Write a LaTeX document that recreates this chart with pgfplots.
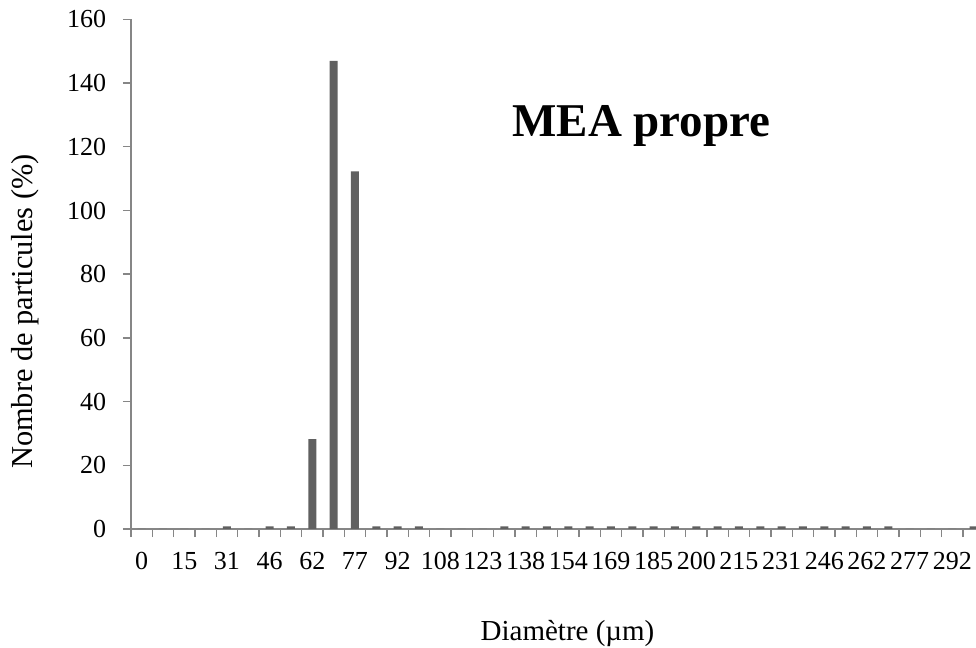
\documentclass[border=0pt]{standalone}
\usepackage{pgfplots}
\pgfplotsset{compat=1.18}
\usepackage{fontspec}
\setmainfont{Liberation Serif}
\definecolor{bargray}{HTML}{606060}
\definecolor{axisgray}{HTML}{868686}

\begin{document}
\begin{tikzpicture}
\begin{axis}[
	at={(0,0)}, anchor=south west,
	scale only axis,
	width=422.5pt, height=254.8pt,
	xmin=-0.5, xmax=39.11,
	ymin=0, ymax=160,
	axis lines=left,
	axis line style={-, draw=axisgray, line width=0.7pt},
	tick align=outside,
	tick style={draw=axisgray, line width=0.7pt},
	major tick length=4pt,
	xtick={-0.5,0.5,...,38.5},
	xticklabels={},
	extra x ticks={0,2,...,38},
	extra x tick labels={0,15,31,46,62,77,92,108,123,138,154,169,185,200,215,231,246,262,277,292},
	extra x tick style={major tick length=0pt},
	ytick={0,20,...,160},
	/pgf/number format/assume math mode=true,
	xticklabel style={font=\fontsize{13}{15}\selectfont, anchor=base, inner sep=0pt, yshift=-20.5pt},
	yticklabel style={font=\fontsize{13}{15}\selectfont, anchor=east, inner sep=0pt, xshift=-8.2pt},
	xlabel={Diamètre (µm)},
	ylabel={Nombre de particules (\%)},
	xlabel style={font=\fontsize{14.5}{17}\selectfont, at={(axis description cs:0.5166,-0.2192)}, anchor=base, inner sep=0pt},
	ylabel style={font=\fontsize{15.2}{18}\selectfont, at={(axis description cs:-0.1163,0.4268)}, anchor=base, inner sep=0pt},
	ybar, bar width=4pt, bar shift=0pt,
]
\addplot[fill=bargray, draw=none] coordinates {
	(0,0) (1,0) (2,0) (3,0) (4,0.8) (5,0) (6,0.8) (7,0.8) (8,28.2) (9,147)
	(10,112.3) (11,0.8) (12,0.8) (13,0.8) (14,0) (15,0) (16,0) (17,0.8) (18,0.8) (19,0.8)
	(20,0.8) (21,0.8) (22,0.8) (23,0.8) (24,0.8) (25,0.8) (26,0.8) (27,0.8) (28,0.8) (29,0.8)
	(30,0.8) (31,0.8) (32,0.8) (33,0.8) (34,0.8) (35,0.8) (36,0) (37,0) (38,0) (39,0.8)
};
\node[anchor=base west, inner sep=0pt, font=\fontsize{23.5}{28}\selectfont\bfseries]
	at (rel axis cs:0.4509,0.770) {MEA propre};
\end{axis}
\pgfresetboundingbox
\path (-65.5pt,-59.5pt) rectangle (422.5pt,264.5pt);
\end{tikzpicture}
\end{document}
